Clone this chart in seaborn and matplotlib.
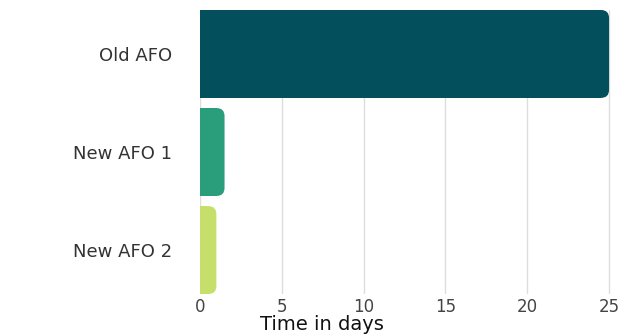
import matplotlib
matplotlib.use("Agg")
import matplotlib.pyplot as plt
import seaborn as sns
import pandas as pd
from matplotlib.patches import FancyBboxPatch, Rectangle

categories = ["Old AFO", "New AFO 1", "New AFO 2"]
days = [25, 1.5, 1.0]
colors = ["#03505C", "#2A9D7A", "#C6DF6A"]
xticks = [0, 5, 10, 15, 20, 25]

df = pd.DataFrame({"AFO": categories, "Days": days})

sns.set_theme(style="white")
plt.rcParams["font.family"] = ["DejaVu Sans"]

fig = plt.figure(figsize=(6.27, 3.35), dpi=100)
ax = fig.add_axes([200 / 627, 41 / 335, 420 / 627, 284 / 335])

w = 0.896
sns.barplot(data=df, x="Days", y="AFO", hue="AFO", palette=colors, orient="h",
            width=w, legend=False, ax=ax, saturation=1, zorder=3)

ax.set_xlim(0, 25.67)
ax.set_ylim(2 + w / 2, -w / 2)

# rounded right ends
rx = 0.489
ry = 0.0814
for p in list(ax.patches):
    x0, y0 = p.get_x(), p.get_y()
    pw, ph = p.get_width(), p.get_height()
    fc = p.get_facecolor()
    p.set_visible(False)
    ax.add_patch(FancyBboxPatch((x0, y0), pw, ph,
                                boxstyle=f"round,pad=0,rounding_size={rx}",
                                mutation_aspect=ry / rx, facecolor=fc,
                                edgecolor="none", zorder=3))
    ax.add_patch(Rectangle((x0, y0), max(pw - rx, 0), ph, facecolor=fc,
                           edgecolor="none", zorder=3))

ax.set_xticks(xticks)
ax.set_xticklabels([str(t) for t in xticks])
ax.xaxis.grid(True, color="#DDDDDD", linewidth=1, zorder=0)
ax.yaxis.grid(False)
for s in ax.spines.values():
    s.set_visible(False)
ax.tick_params(axis="x", length=0, pad=3, labelsize=12, labelcolor="#444444")
ax.tick_params(axis="y", length=0, pad=20, labelsize=13, labelcolor="#333333")
ax.set_ylabel("")
ax.set_xlabel("Time in days", fontsize=14, color="#111111", va="bottom")
ax.xaxis.set_label_coords(0.29, -40 / 284)

fig.savefig("out.png", dpi=100)
